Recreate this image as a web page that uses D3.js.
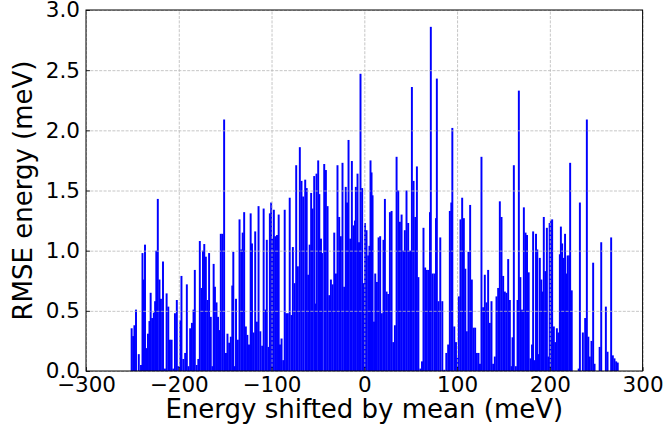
<!DOCTYPE html>
<html>
<head>
<meta charset="utf-8">
<script src="https://cdn.jsdelivr.net/npm/d3@7"></script>
<style>
  body { margin: 0; background: #fff; }
  text { font-family: "DejaVu Sans", sans-serif; }
</style>
</head>
<body>
<div id="chart"></div>
<script>
// Energy (meV, shifted by mean) of each bar left to right
var energyShift = [
  -250.8, -249.2, -247.8, -246.1, -243.1, -240.7, -239.1, -237.7, -236.4, -235.0,
  -233.2, -231.6, -230.3, -228.7, -226.9, -225.5, -224.2, -222.6, -220.8, -219.2,
  -217.0, -214.9, -213.1, -211.3, -209.5, -207.7, -205.9, -204.1, -202.1, -200.5,
  -198.3, -197.1, -195.1, -193.1, -191.3, -189.5, -187.7, -185.8, -184.1, -182.7,
  -180.7, -178.9, -177.3, -175.5, -173.9, -172.5, -170.8, -169.0, -167.3, -165.5,
  -163.8, -162.4, -161.0, -159.3, -157.7, -156.3, -154.7, -152.9, -151.1,
  -149.1, -147.5, -145.7, -143.9, -142.3, -141.2, -139.6, -138.3, -136.3, -134.5,
  -132.7, -131.1, -129.5, -127.7, -126.1, -124.3, -122.5, -121.1, -119.4, -117.6,
  -115.8, -114.0, -112.1, -110.1, -108.5, -106.7, -105.1, -103.3, -101.8, -100.4,
  -99.0, -97.5, -95.9, -94.1, -92.3, -90.9, -89.2, -87.4, -85.8, -84.2,
  -82.4, -80.4, -78.5, -77.0, -75.2, -73.4, -71.6, -69.5, -67.7, -65.9,
  -63.7, -62.1, -60.5, -58.9, -57.3, -55.8, -54.0, -52.6, -51.5, -49.7,
  -48.5, -46.7,
  -45.6, -43.2, -41.4, -39.6, -37.8, -36.0, -34.2, -32.4, -30.6, -28.9,
  -27.1, -25.3, -23.5, -21.7, -20.0, -18.6, -17.0, -15.2, -13.4, -11.6,
  -10.0, -9.1, -7.3, -5.7, -4.1, -2.3, -0.6, 0.8, 2.4, 4.2,
  5.5, 6.7, 7.8, 8.9, 10.5, 11.8, 13.6, 15.4, 17.1, 18.9,
  20.7, 22.2, 24.0, 25.8, 27.6, 29.4, 31.2, 33.0, 34.8, 36.6,
  38.4, 40.2, 42.0, 43.7, 45.5, 47.3, 49.3, 51.3, 53.1, 54.9,
  56.7, 58.3,
  60.4, 62.2, 63.8, 65.6, 67.4, 69.2, 70.8, 71.7, 73.5, 75.5,
  77.3, 78.2, 80.0, 81.9, 84.1, 86.2, 88.4, 90.4, 92.2, 93.8,
  94.9, 97.0, 98.8, 100.3, 101.9, 103.7, 105.5, 107.3, 108.9, 110.5,
  112.3, 114.1, 115.9, 117.7, 119.5, 121.3, 123.1, 124.7, 126.3, 128.1,
  129.9, 131.7, 133.5, 135.3, 137.1, 138.9, 140.7, 142.5, 144.3, 146.1,
  147.9, 149.7, 151.5, 153.3, 155.1, 156.9, 158.7, 159.8, 161.2,
  163.4, 165.2, 166.6, 168.2, 170.0, 172.0, 173.8, 175.4, 177.2, 179.2,
  180.8, 182.0, 183.7, 185.1, 186.5, 188.0, 189.2, 190.8, 192.1, 193.5,
  195.2, 196.8, 198.4, 199.8, 201.1, 202.5, 204.3, 205.9, 207.6, 209.2,
  210.8, 211.9, 213.3, 214.9, 216.4, 217.8, 219.2, 220.9, 221.9, 223.6,
  231.1, 232.4, 235.6, 238.1, 239.9, 241.5, 243.1, 244.9, 246.7, 248.2,
  253.7, 255.4, 260.4, 262.2, 266.1, 267.9, 269.7, 271.5, 273.2
];

// RMSE energy (meV) for each bar above
var rmseEnergy = [
  0.355, 0.29, 0.38, 0.51, 0.14, 0.05, 0.98, 0.76, 1.05, 0.19,
  0.31, 0.415, 0.65, 0.44, 0.485, 0.58, 1.0, 1.43, 0.76, 0.60,
  0.91, 0.02, 0.645, 0.535, 0.26, 0.26, 0.02, 0.48, 0.59, 0.04,
  0.42, 0.79, 0.10, 0.15, 0.72, 0.04, 0.355, 0.40, 0.51, 0.84,
  0.05, 0.10, 1.08, 0.69, 1.0, 1.055, 0.95, 0.59, 0.98, 0.45,
  0.04, 0.89, 0.70, 0.57, 0.45, 0.34, 1.14, 1.14, 2.09,
  0.15, 0.31, 0.235, 0.285, 0.71, 0.99, 0.04, 0.60, 0.26, 1.26,
  1.01, 1.15, 1.32, 0.37, 0.30, 0.22, 1.31, 1.06, 0.32, 1.16,
  0.41, 1.37, 0.33, 0.21, 1.35, 0.51, 1.09, 0.20, 1.31, 1.40,
  1.10, 1.34, 1.12, 1.13, 1.30, 0.22, 0.27, 0.09, 1.34, 0.48,
  0.48, 1.44, 0.465, 1.03, 0.73, 1.71, 0.87, 1.86, 1.58, 1.45,
  1.59, 1.52, 0.80, 1.05, 1.48, 1.35, 1.62, 0.56, 1.64, 1.75,
  1.47, 1.10,
  0.98, 1.72, 1.67, 1.37, 0.63, 0.76, 0.72, 1.15, 0.81, 1.71,
  1.28, 1.12, 1.73, 0.70, 1.53, 1.40, 1.92, 1.10, 1.745, 1.21,
  1.25, 1.53, 1.64, 1.07, 2.47, 1.52, 0.73, 1.23, 1.17, 0.96,
  1.04, 1.75, 1.65, 1.46, 0.41, 0.81, 0.74, 1.11, 1.12, 0.48,
  1.09, 1.43, 0.66, 0.64, 1.32, 1.33, 0.24, 0.38, 1.78, 1.50,
  1.24, 1.30, 1.00, 1.17, 1.50, 1.23, 1.00, 2.36, 1.58, 1.28,
  1.70, 0.78,
  0.02, 0.08, 1.19, 0.86, 0.84, 0.84, 1.32, 2.86, 0.81, 0.81,
  1.27, 2.43, 0.58, 1.11, 0.58, 0.01, 0.15, 0.22, 1.33, 1.40,
  2.02, 0.37, 0.24, 0.11, 0.62, 1.26, 1.44, 1.27, 0.85, 0.33,
  0.99, 1.38, 0.76, 0.36, 0.36, 0.15, 0.15, 0.06, 1.78, 0.53,
  0.80, 0.57, 0.84, 0.40, 0.58, 0.06, 0.12, 0.62, 0.69, 1.41,
  1.28, 0.79, 0.66, 0.65, 0.93, 0.59, 0.04, 0.28, 1.71,
  0.04, 0.59, 2.33, 0.78, 0.51, 1.36, 1.15, 1.13, 0.82, 0.105,
  0.22, 1.16, 0.09, 1.14, 1.01, 0.14, 0.94, 0.76, 0.66, 1.28,
  0.83, 1.19, 0.12, 1.23, 1.25, 1.26, 0.37, 0.24, 0.355, 0.32,
  0.97, 1.20, 1.06, 0.94, 1.14, 0.81, 0.96, 0.96, 1.73, 0.67,
  0.02, 1.40, 0.32, 0.44, 2.09, 0.285, 0.12, 0.25, 0.90, 0.06,
  0.20, 1.07, 0.535, 0.16, 1.11, 0.13, 0.105, 0.08, 0.07
];

var xTicks = [-300, -200, -100, 0, 100, 200, 300];
var yTicks = [0, 0.5, 1.0, 1.5, 2.0, 2.5, 3.0];

var dims = {
  width: 665,
  height: 434,
  plot: { left: 86, right: 642.6, top: 10, bottom: 371 }
};
var barWidth = 2.1; // meV, a touch wider than the spacing so dense runs read solid

var x = d3.scaleLinear().domain([-300, 300]).range([dims.plot.left, dims.plot.right]);
var y = d3.scaleLinear().domain([0, 3]).range([dims.plot.bottom, dims.plot.top]);
var plotW = dims.plot.right - dims.plot.left;
var plotH = dims.plot.bottom - dims.plot.top;

var svg = d3.select("#chart")
  .append("svg")
  .attr("width", dims.width)
  .attr("height", dims.height);

// bars
svg.append("g")
  .attr("class", "bars")
  .selectAll("rect")
  .data(energyShift)
  .join("rect")
  .attr("x", function(d) { return x(d - barWidth / 2); })
  .attr("width", x(barWidth) - x(0))
  .attr("y", function(d, i) { return y(rmseEnergy[i]); })
  .attr("height", function(d, i) { return y(0) - y(rmseEnergy[i]); })
  .attr("fill", "#0000ff");

// dashed grid, drawn over the bars like the original
var xGrid = svg.append("g")
  .attr("transform", "translate(0," + dims.plot.bottom + ")")
  .call(d3.axisBottom(x).tickValues(xTicks).tickSize(-plotH).tickFormat(""));
var yGrid = svg.append("g")
  .attr("transform", "translate(" + dims.plot.left + ",0)")
  .call(d3.axisLeft(y).tickValues(yTicks).tickSize(-plotW).tickFormat(""));
[xGrid, yGrid].forEach(function(g) {
  g.select(".domain").remove();
  g.selectAll("line")
    .attr("stroke", "#b8b8b8")
    .attr("stroke-width", 0.8)
    .attr("stroke-dasharray", "3,1.4");
});

// axes with inward ticks
var xAxis = svg.append("g")
  .attr("transform", "translate(0," + dims.plot.bottom + ")")
  .call(d3.axisBottom(x).tickValues(xTicks).tickSize(-4).tickPadding(6).tickFormat(d3.format("d")));
var yAxis = svg.append("g")
  .attr("transform", "translate(" + dims.plot.left + ",0)")
  .call(d3.axisLeft(y).tickValues(yTicks).tickSize(-4).tickPadding(6).tickFormat(d3.format(".1f")));
[xAxis, yAxis].forEach(function(g) {
  g.select(".domain").remove();
  g.selectAll("line").attr("stroke", "#000").attr("stroke-width", 0.8);
  g.selectAll("text")
    .attr("fill", "#000")
    .style("font-size", "21.5px")
    .style("font-family", "'DejaVu Sans', sans-serif");
});

// frame
svg.append("rect")
  .attr("x", dims.plot.left)
  .attr("y", dims.plot.top)
  .attr("width", plotW)
  .attr("height", plotH)
  .attr("fill", "none")
  .attr("stroke", "#000")
  .attr("stroke-width", 1);

// axis titles
svg.append("text")
  .attr("x", (dims.plot.left + dims.plot.right) / 2)
  .attr("y", 418)
  .attr("text-anchor", "middle")
  .style("font-size", "26px")
  .text("Energy shifted by mean (meV)");

svg.append("text")
  .attr("transform", "translate(32," + (dims.plot.top + dims.plot.bottom) / 2 + ") rotate(-90)")
  .attr("text-anchor", "middle")
  .style("font-size", "26px")
  .text("RMSE energy (meV)");
</script>
</body>
</html>
